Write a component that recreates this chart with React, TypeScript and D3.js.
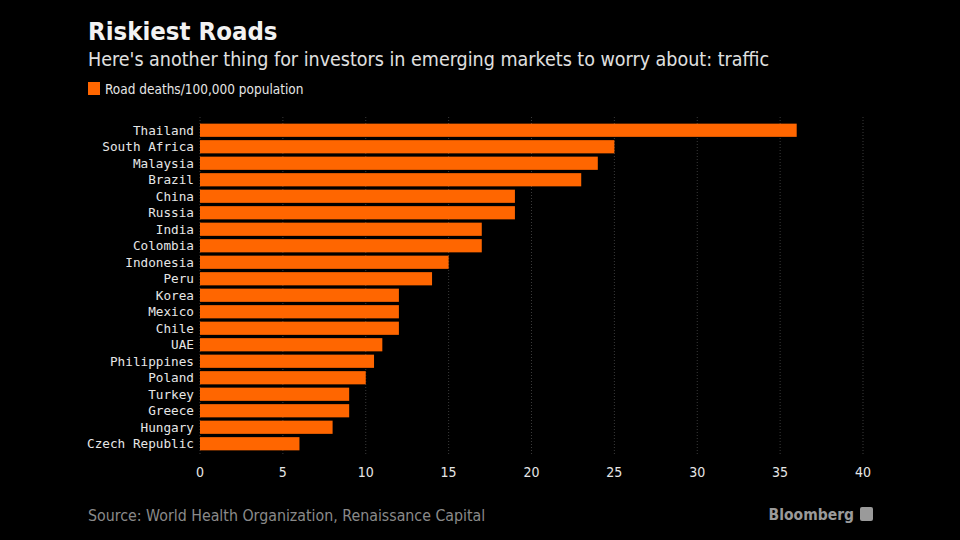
import React from "react";
import * as d3 from "d3";

const countries = ["Thailand","South Africa","Malaysia","Brazil","China","Russia","India","Colombia","Indonesia","Peru","Korea","Mexico","Chile","UAE","Philippines","Poland","Turkey","Greece","Hungary","Czech Republic"];
const deaths = [36,25,24,23,19,19,17,17,15,14,12,12,12,11,10.5,10,9,9,8,6];
const xTicks = [0,5,10,15,20,25,30,35,40];

const W = 960, H = 540;
const orange = "#ff6600";

export default function App() {
  const x = d3.scaleLinear().domain([0, 40]).range([200, 863]);
  const y = d3.scaleBand().domain(countries).range([122, 452]).paddingInner(0.2).paddingOuter(0.1);
  const mono = "'DejaVu Sans Mono', monospace";
  const sans = "'DejaVu Sans Condensed', 'DejaVu Sans', sans-serif";
  return (
    <svg width={W} height={H} style={{ position: "absolute", left: 0, top: 0, background: "#000" }}>
      <rect x={0} y={0} width={W} height={H} fill="#000" />
      <text x={88} y={40} fill="#f2f2f2" fontFamily={sans} fontWeight="bold" fontSize={25.5}>Riskiest Roads</text>
      <text x={88} y={66} fill="#e0e0e0" fontFamily={sans} fontSize={19.5}>Here's another thing for investors in emerging markets to worry about: traffic</text>
      <rect x={88} y={82} width={12} height={13} fill={orange} />
      <text x={105} y={94} fill="#e6e6e6" fontFamily={sans} fontSize={13.5}>Road deaths/100,000 population</text>
      {xTicks.map(t => (
        <line key={"g"+t} x1={x(t)} x2={x(t)} y1={117} y2={456} stroke="#3a3a3a" strokeWidth={1} strokeDasharray="1,2" />
      ))}
      {countries.map((c, i) => (
        <rect key={c} x={x(0)} y={y(c)!} width={x(deaths[i]) - x(0)} height={y.bandwidth()} fill={orange} />
      ))}
      {countries.map(c => (
        <text key={"l"+c} x={194} y={y(c)! + y.bandwidth() / 2} dy="0.35em" textAnchor="end" fill="#e6e6e6" fontFamily={mono} fontSize={12.7}>{c}</text>
      ))}
      {xTicks.map(t => (
        <text key={"t"+t} x={x(t)} y={477} textAnchor="middle" fill="#e6e6e6" fontFamily={sans} fontSize={14}>{t}</text>
      ))}
      <text x={88} y={521} fill="#8a8a8a" fontFamily={sans} fontSize={15.8}>Source: World Health Organization, Renaissance Capital</text>
      <text x={854} y={520} textAnchor="end" fill="#9a9a9a" fontFamily={sans} fontWeight="bold" fontSize={15.5}>Bloomberg</text>
      <rect x={860} y={507} width={13} height={14} rx={2} fill="#9a9a9a" />
    </svg>
  );
}
